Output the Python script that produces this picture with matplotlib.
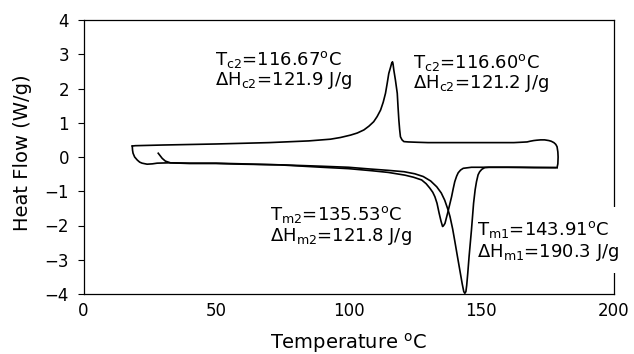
import matplotlib
matplotlib.use("Agg")
import matplotlib.pyplot as plt
from matplotlib.patches import Rectangle

# first heating (melting peak Tm1)
heat1_t = [28.2, 29.0, 29.7, 30.9, 32.8, 40, 50, 60, 75, 90, 100, 108, 115, 121, 125,
           128.2, 131, 133.3, 135, 136.3, 137.6, 138.3, 139.3, 140.1, 141.1, 142.0,
           142.9, 143.5, 143.9, 144.3, 144.6, 145.0, 145.5, 146.4, 147.2, 147.8,
           148.3, 148.9, 149.5, 150.3, 151.4, 153, 160, 170, 178.7]
heat1_hf = [0.11, 0.03, -0.04, -0.12, -0.17, -0.19, -0.19, -0.21, -0.23, -0.27, -0.30,
            -0.35, -0.39, -0.43, -0.49, -0.57, -0.70, -0.87, -1.05, -1.26, -1.55, -1.74,
            -2.10, -2.45, -2.90, -3.30, -3.70, -3.93, -3.98, -3.93, -3.75, -3.40, -2.91,
            -2.13, -1.35, -0.95, -0.72, -0.52, -0.43, -0.36, -0.31, -0.30, -0.30, -0.31,
            -0.31]

# cooling (crystallization peak Tc2)
cool_t = [178.7, 179.0, 179.1, 179.0, 178.7, 178.2, 177.5, 176.5, 175.6, 174, 172.5,
          171, 169.9, 168.5, 167.4, 165, 162.4, 150, 140, 130, 125.9, 122.5, 120.9,
          120.2, 119.6, 119.3, 119.0, 118.7, 118.4, 117.7, 117.1, 116.8, 116.6, 116.3,
          115.8, 115.2, 114.6, 113.96, 113.1, 112.1, 110.8, 109.5, 107.7, 105.8, 103.3,
          100.8, 97, 93.2, 85, 70, 50, 30, 19.5, 18.4]
cool_hf = [-0.31, -0.20, 0.0, 0.15, 0.30, 0.37, 0.42, 0.46, 0.48, 0.50, 0.50, 0.49,
           0.48, 0.46, 0.44, 0.43, 0.42, 0.42, 0.42, 0.42, 0.43, 0.44, 0.45, 0.50, 0.59,
           0.80, 1.08, 1.45, 1.86, 2.25, 2.54, 2.72, 2.78, 2.74, 2.60, 2.44, 2.15, 1.86,
           1.60, 1.37, 1.18, 1.03, 0.90, 0.79, 0.70, 0.64, 0.57, 0.52, 0.47, 0.42, 0.38,
           0.35, 0.33, 0.32]

# second heating (melting peak Tm2)
heat2_t = [18.4, 18.5, 18.7, 19.3, 20.3, 21.2, 22.1, 24.0, 26, 27.8, 32.2, 40, 50, 60,
           74, 90, 100, 108.7, 115, 121.3, 124.5, 127.6, 129.3, 130.7, 131.8, 132.6,
           133.4, 134.2, 134.9, 135.5, 135.9, 136.4, 137.4, 138.9, 139.5, 140.1, 140.8,
           141.4, 142.3, 143.3, 146.4, 155, 165, 178.0]
heat2_hf = [0.32, 0.20, 0.11, 0.0, -0.09, -0.15, -0.18, -0.21, -0.20, -0.18, -0.17,
            -0.18, -0.18, -0.20, -0.23, -0.30, -0.34, -0.40, -0.45, -0.53, -0.59, -0.67,
            -0.78, -0.91, -1.03, -1.16, -1.35, -1.64, -1.87, -2.03, -2.00, -1.94, -1.64,
            -1.16, -0.93, -0.72, -0.56, -0.46, -0.38, -0.33, -0.30, -0.30, -0.30, -0.31]

x_ticks = [0, 50, 100, 150, 200]
y_ticks = [-4, -3, -2, -1, 0, 1, 2, 3, 4]

plt.rcParams['font.family'] = ['DejaVu Sans']
plt.rcParams['mathtext.default'] = 'regular'

fig = plt.figure(figsize=(6.34, 3.54), dpi=100)
ax = fig.add_axes([83.5 / 634, 1 - 294 / 354, 530 / 634, 274 / 354])

for t, hf in [(heat1_t, heat1_hf), (cool_t, cool_hf), (heat2_t, heat2_hf)]:
    ax.plot(t, hf, color='black', lw=1.2, zorder=3)

ax.set_xlim(0, 200)
ax.set_ylim(-4, 4)
ax.set_xticks(x_ticks)
ax.set_yticks(y_ticks)
ax.tick_params(axis='x', length=0, pad=6, labelsize=12)
ax.tick_params(axis='y', length=4.5, width=0.8, pad=6, labelsize=12, direction='out')
for sp in ax.spines.values():
    sp.set_linewidth(0.9)

ax.set_xlabel('Temperature $^{o}$C', fontsize=14)
ax.xaxis.set_label_coords(0.5, -0.135)
ax.set_ylabel('Heat Flow (W/g)', fontsize=14)
ax.yaxis.set_label_coords(-0.097, 0.516)

# white box behind the Tm1 label, it hides part of the right frame
ax.add_patch(Rectangle((148.1, -3.387), 58.9, 1.927, facecolor='white',
                       edgecolor='none', clip_on=False, zorder=2.6))

fs = 13
ax.text(49.6, 2.686, 'T$_{c2}$=116.67$^{o}$C', fontsize=fs, zorder=4)
ax.text(49.6, 2.102, 'ΔH$_{c2}$=121.9 J/g', fontsize=fs, zorder=4)
ax.text(124.5, 2.59, 'T$_{c2}$=116.60$^{o}$C', fontsize=fs, zorder=4)
ax.text(124.5, 2.006, 'ΔH$_{c2}$=121.2 J/g', fontsize=fs, zorder=4)
ax.text(70.4, -1.84, 'T$_{m2}$=135.53$^{o}$C', fontsize=fs, zorder=4)
ax.text(70.4, -2.44, 'ΔH$_{m2}$=121.8 J/g', fontsize=fs, zorder=4)
ax.text(148.4, -2.277, 'T$_{m1}$=143.91$^{o}$C', fontsize=fs, zorder=4, clip_on=False)
ax.text(148.4, -2.911, 'ΔH$_{m1}$=190.3 J/g', fontsize=fs, zorder=4, clip_on=False)

fig.savefig('out.png', dpi=100)
plt.close(fig)
